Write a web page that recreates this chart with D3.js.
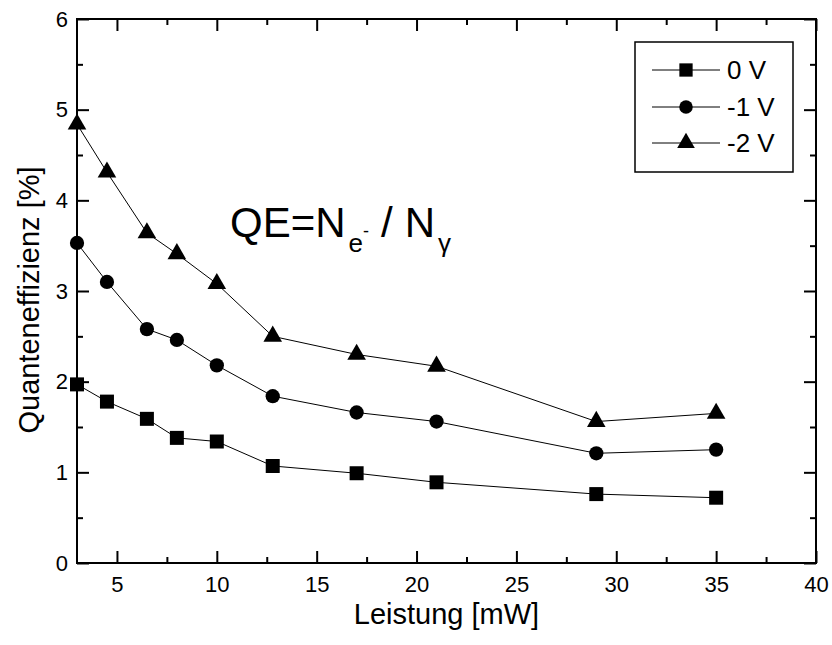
<!DOCTYPE html>
<html><head><meta charset="utf-8">
<script src="https://cdn.jsdelivr.net/npm/d3@7"></script>
<style>body{margin:0;background:#fff}svg{display:block}text{font-family:"Liberation Sans",Arial,sans-serif;fill:#000}</style>
</head><body>
<script>
const power = [3, 4.5, 6.5, 8, 10, 12.8, 17, 21, 29, 35];
const qe0V  = [1.97, 1.78, 1.59, 1.38, 1.34, 1.07, 0.99, 0.89, 0.76, 0.72];
const qe1V  = [3.53, 3.10, 2.58, 2.46, 2.18, 1.84, 1.66, 1.56, 1.21, 1.25];
const qe2V  = [4.84, 4.31, 3.64, 3.41, 3.08, 2.50, 2.30, 2.17, 1.56, 1.65];
const seriesNames = ["0 V", "-1 V", "-2 V"];
const seriesSymbols = ["square", "circle", "triangle"];
const xTicks = [5, 10, 15, 20, 25, 30, 35, 40];
const yTicks = [0, 1, 2, 3, 4, 5, 6];

const W = 832, H = 645;
const m = {l: 77, r: 16, t: 19, b: 82};
const svg = d3.select("body").append("svg").attr("width", W).attr("height", H);
const x = d3.scaleLinear().domain([3, 40]).range([m.l, W - m.r]);
const y = d3.scaleLinear().domain([0, 6]).range([H - m.b, m.t]);

const symMap = {square: d3.symbolSquare, circle: d3.symbolCircle, triangle: d3.symbolTriangle};
const symSize = {square: 196, circle: 160, triangle: 150};

const allSeries = [qe0V, qe1V, qe2V];

const line = d3.line().x(d => x(d[0])).y(d => y(d[1]));
allSeries.forEach((vals, i) => {
  const pts = power.map((p, j) => [p, vals[j]]);
  svg.append("path").datum(pts).attr("d", line)
    .attr("fill", "none").attr("stroke", "#000").attr("stroke-width", 1);
  const sym = d3.symbol().type(symMap[seriesSymbols[i]]).size(symSize[seriesSymbols[i]]);
  svg.append("g").selectAll("path").data(pts).join("path")
    .attr("d", sym)
    .attr("transform", d => `translate(${x(d[0])},${y(d[1])})`)
    .attr("fill", "#000");
});

const minorX = d3.range(5, 40.01, 2.5);
const minorY = d3.range(0, 6.01, 0.5);
function drawAxis(axis, tickVals, len, showLabels, transform) {
  const g = svg.append("g").attr("transform", transform)
    .call(axis.tickValues(tickVals).tickSize(len).tickSizeOuter(0).tickPadding(8)
      .tickFormat(showLabels ? d3.format("d") : ""));
  g.select(".domain").remove();
  g.selectAll(".tick line").attr("stroke", "#000").attr("stroke-width", 2);
  g.selectAll(".tick text").style("font-size", "22px").style("font-family", '"Liberation Sans",Arial,sans-serif');
  return g;
}
drawAxis(d3.axisBottom(x), minorX.filter(v => v % 5 !== 0), -6, false, `translate(0,${H - m.b})`);
const gb = drawAxis(d3.axisBottom(x), xTicks, -12, true, `translate(0,${H - m.b})`);
gb.selectAll(".tick text").attr("y", 13);
drawAxis(d3.axisTop(x), minorX.filter(v => v % 5 !== 0), -6, false, `translate(0,${m.t})`);
drawAxis(d3.axisTop(x), xTicks, -12, false, `translate(0,${m.t})`);
drawAxis(d3.axisLeft(y), minorY.filter(v => v % 1 !== 0), -6, false, `translate(${m.l},0)`);
const gl = drawAxis(d3.axisLeft(y), yTicks, -12, true, `translate(${m.l},0)`);
gl.selectAll(".tick text").attr("x", -9);
drawAxis(d3.axisRight(y), minorY.filter(v => v % 1 !== 0), -6, false, `translate(${W - m.r},0)`);
drawAxis(d3.axisRight(y), yTicks, -12, false, `translate(${W - m.r},0)`);

svg.append("rect").attr("x", m.l).attr("y", m.t)
  .attr("width", W - m.l - m.r).attr("height", H - m.t - m.b)
  .attr("fill", "none").attr("stroke", "#000").attr("stroke-width", 2);

svg.append("text").attr("x", (m.l + W - m.r) / 2).attr("y", 624)
  .attr("text-anchor", "middle").style("font-size", "29px").text("Leistung [mW]");
svg.append("text").attr("transform", `translate(39,300) rotate(-90)`)
  .attr("text-anchor", "middle").style("font-size", "29px").text("Quanteneffizienz [%]");

const f = svg.append("text").attr("x", 230).attr("y", 237).style("font-size", "42px");
f.append("tspan").text("QE=N");
f.append("tspan").attr("dy", 15).attr("dx", 3).style("font-size", "26px").text("e");
f.append("tspan").attr("dy", -15).style("font-size", "18px").text("-");
f.append("tspan").attr("dy", 0).attr("dx", 12).text("/");
f.append("tspan").attr("dx", 12).text("N");
f.append("tspan").attr("dy", 15).attr("dx", 3).style("font-size", "26px").text("γ");

const lg = svg.append("g");
lg.append("rect").attr("x", 635).attr("y", 42).attr("width", 158).attr("height", 130)
  .attr("fill", "#fff").attr("stroke", "#000").attr("stroke-width", 1.5);
const rowsY = [70, 107, 143];
seriesNames.forEach((name, i) => {
  const ry = rowsY[i];
  lg.append("line").attr("x1", 652).attr("x2", 720).attr("y1", ry).attr("y2", ry)
    .attr("stroke", "#000").attr("stroke-width", 1);
  lg.append("path").attr("d", d3.symbol().type(symMap[seriesSymbols[i]]).size(symSize[seriesSymbols[i]] * 0.9)())
    .attr("transform", `translate(686,${ry})`).attr("fill", "#000");
  lg.append("text").attr("x", 727).attr("y", ry + 9).style("font-size", "26px").text(name);
});
</script>
</body></html>
